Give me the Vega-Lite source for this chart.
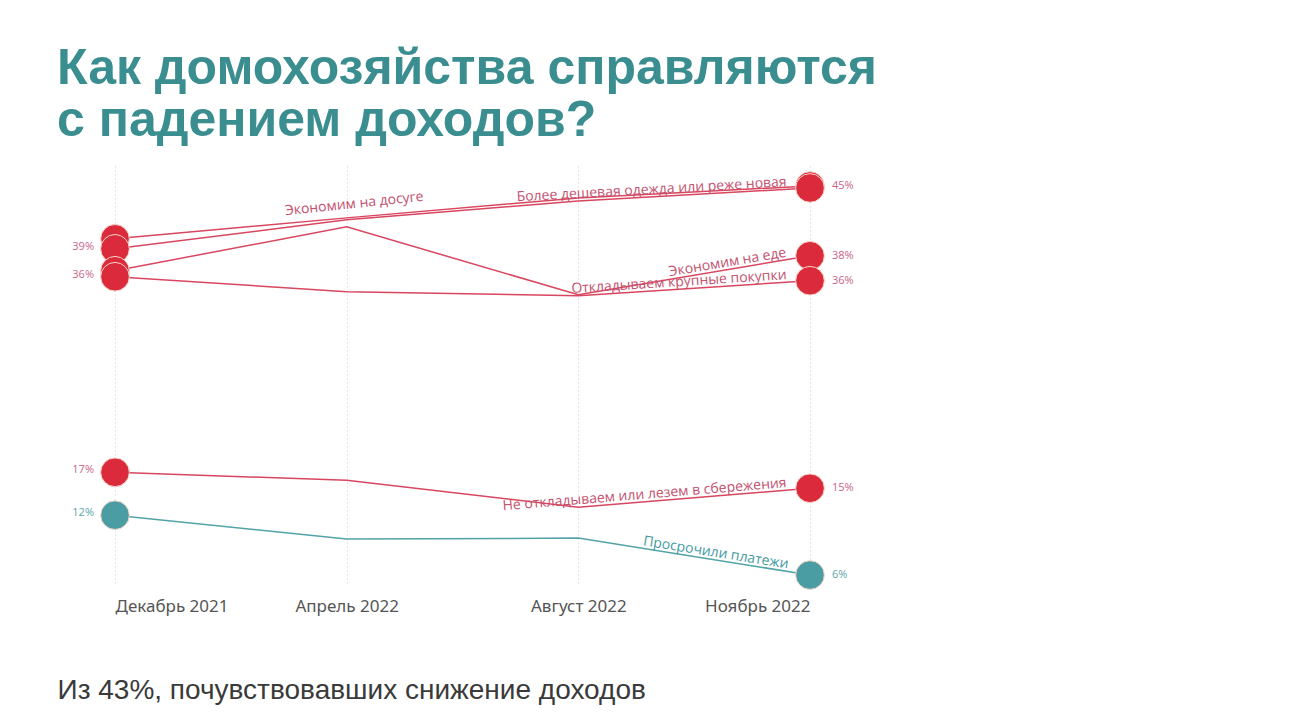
{
  "$schema": "https://vega.github.io/schema/vega-lite/v6.json",
  "width": 695,
  "height": 419,
  "autosize": {"type": "none"},
  "padding": {"left": 115, "top": 166, "right": 482, "bottom": 140},
  "background": "white",
  "config": {"view": {"stroke": null}},
  "title": {
    "text": ["Как домохозяйства справляются", "с падением доходов?"],
    "anchor": "start",
    "frame": "group",
    "dx": -58,
    "offset": 20,
    "font": "Liberation Sans",
    "fontSize": 50,
    "fontWeight": "bold",
    "color": "#3B8E90",
    "lineHeight": 52
  },
  "data": {
    "values": [
      {"series": "Экономим на досуге", "month": "Декабрь 2021", "date": "2021-12", "value": 39.7},
      {"series": "Экономим на досуге", "month": "Апрель 2022", "date": "2022-04", "value": 41.8},
      {"series": "Экономим на досуге", "month": "Август 2022", "date": "2022-08", "value": 43.8},
      {"series": "Экономим на досуге", "month": "Ноябрь 2022", "date": "2022-11", "value": 45.0, "pct": "45%"},
      {"series": "Более дешевая одежда или реже новая", "month": "Декабрь 2021", "date": "2021-12", "value": 38.7, "pct": "39%"},
      {"series": "Более дешевая одежда или реже новая", "month": "Апрель 2022", "date": "2022-04", "value": 41.6},
      {"series": "Более дешевая одежда или реже новая", "month": "Август 2022", "date": "2022-08", "value": 43.5},
      {"series": "Более дешевая одежда или реже новая", "month": "Ноябрь 2022", "date": "2022-11", "value": 44.8},
      {"series": "Экономим на еде", "month": "Декабрь 2021", "date": "2021-12", "value": 36.5},
      {"series": "Экономим на еде", "month": "Апрель 2022", "date": "2022-04", "value": 40.9},
      {"series": "Экономим на еде", "month": "Август 2022", "date": "2022-08", "value": 34.1},
      {"series": "Экономим на еде", "month": "Ноябрь 2022", "date": "2022-11", "value": 38.0, "pct": "38%"},
      {"series": "Откладываем крупные покупки", "month": "Декабрь 2021", "date": "2021-12", "value": 35.9, "pct": "36%"},
      {"series": "Откладываем крупные покупки", "month": "Апрель 2022", "date": "2022-04", "value": 34.4},
      {"series": "Откладываем крупные покупки", "month": "Август 2022", "date": "2022-08", "value": 34.0},
      {"series": "Откладываем крупные покупки", "month": "Ноябрь 2022", "date": "2022-11", "value": 35.5, "pct": "36%"},
      {"series": "Не откладываем или лезем в сбережения", "month": "Декабрь 2021", "date": "2021-12", "value": 16.3, "pct": "17%"},
      {"series": "Не откладываем или лезем в сбережения", "month": "Апрель 2022", "date": "2022-04", "value": 15.5},
      {"series": "Не откладываем или лезем в сбережения", "month": "Август 2022", "date": "2022-08", "value": 12.8},
      {"series": "Не откладываем или лезем в сбережения", "month": "Ноябрь 2022", "date": "2022-11", "value": 14.7, "pct": "15%"},
      {"series": "Просрочили платежи", "month": "Декабрь 2021", "date": "2021-12", "value": 12.0, "pct": "12%"},
      {"series": "Просрочили платежи", "month": "Апрель 2022", "date": "2022-04", "value": 9.6},
      {"series": "Просрочили платежи", "month": "Август 2022", "date": "2022-08", "value": 9.7},
      {"series": "Просрочили платежи", "month": "Ноябрь 2022", "date": "2022-11", "value": 6.0, "pct": "6%"}
    ]
  },
  "encoding": {
    "x": {
      "field": "month",
      "type": "nominal",
      "sort": ["Декабрь 2021", "Апрель 2022", "Август 2022", "Ноябрь 2022"],
      "scale": {"type": "point", "padding": 0},
      "axis": {
        "title": "Из 43%, почувствовавших снижение доходов",
        "titleX": -58,
        "titleY": 113,
        "titleAlign": "left",
        "titleBaseline": "alphabetic",
        "titleFont": "Liberation Sans",
        "titleFontSize": 28,
        "titleFontWeight": "normal",
        "titleColor": "#3a3a3a",
        "domain": false,
        "ticks": false,
        "grid": true,
        "gridDash": [1, 3],
        "gridColor": "#cccccc",
        "labelAngle": 0,
        "labelFont": "Noto Sans",
        "labelFontSize": 17,
        "labelColor": "#555555",
        "labelPadding": 13,
        "labelAlign": {
          "condition": [
            {"test": "datum.value === 'Декабрь 2021'", "value": "left"},
            {"test": "datum.value === 'Ноябрь 2022'", "value": "right"}
          ],
          "value": "center"
        }
      }
    },
    "y": {
      "field": "value",
      "type": "quantitative",
      "scale": {"domain": [5, 47], "zero": false, "nice": false},
      "axis": null
    }
  },
  "layer": [
    {
      "mark": {"type": "line", "strokeWidth": 1.5},
      "encoding": {
        "detail": {"field": "series"},
        "order": {"field": "date"},
        "stroke": {
          "condition": {"test": "datum.series === 'Просрочили платежи'", "value": "#52A3A7"},
          "value": "#D9465F"
        }
      }
    },
    {
      "transform": [{"filter": "datum.month === 'Декабрь 2021' || datum.month === 'Ноябрь 2022'"}],
      "mark": {"type": "circle", "size": 820, "opacity": 1, "stroke": "#f7d6c8", "strokeWidth": 1},
      "encoding": {
        "fill": {
          "condition": {"test": "datum.series === 'Просрочили платежи'", "value": "#4A9EA3"},
          "value": "#DA2A3C"
        }
      }
    },
    {
      "transform": [{"filter": "datum.month === 'Декабрь 2021' && datum.pct"}],
      "mark": {"type": "text", "align": "right", "baseline": "middle", "dx": -21, "dy": -2, "font": "Open Sans", "fontSize": 11},
      "encoding": {
        "text": {"field": "pct"},
        "fill": {
          "condition": {"test": "datum.series === 'Просрочили платежи'", "value": "#5AA6AA"},
          "value": "#C76587"
        }
      }
    },
    {
      "transform": [{"filter": "datum.month === 'Ноябрь 2022' && datum.pct"}],
      "mark": {"type": "text", "align": "left", "baseline": "middle", "dx": 22, "font": "Open Sans", "fontSize": 11},
      "encoding": {
        "text": {"field": "pct"},
        "fill": {
          "condition": {"test": "datum.series === 'Просрочили платежи'", "value": "#5AA6AA"},
          "value": "#C76587"
        }
      }
    },
    {
      "transform": [
        {"window": [{"op": "lag", "field": "value", "as": "prev"}], "groupby": ["series"], "sort": [{"field": "date"}]},
        {"filter": "datum.month === 'Ноябрь 2022' && datum.series !== 'Экономим на досуге'"},
        {"calculate": "atan2(-(datum.value - datum.prev) * 419 / 42, 695 / 3) * 180 / PI", "as": "ang"}
      ],
      "mark": {"type": "text", "align": "right", "baseline": "alphabetic", "dx": -23, "dy": -3, "font": "Open Sans", "fontSize": 14},
      "encoding": {
        "text": {"field": "series"},
        "angle": {"field": "ang", "type": "quantitative", "scale": null},
        "fill": {
          "condition": {"test": "datum.series === 'Просрочили платежи'", "value": "#3F9AA0"},
          "value": "#C4506E"
        }
      }
    },
    {
      "transform": [{"filter": "datum.month === 'Апрель 2022' && datum.series === 'Экономим на досуге'"}],
      "mark": {"type": "text", "align": "center", "baseline": "alphabetic", "angle": -6, "dx": 9, "dy": -9, "font": "Open Sans", "fontSize": 14, "fill": "#C4506E"},
      "encoding": {
        "text": {"field": "series"}
      }
    }
  ]
}
